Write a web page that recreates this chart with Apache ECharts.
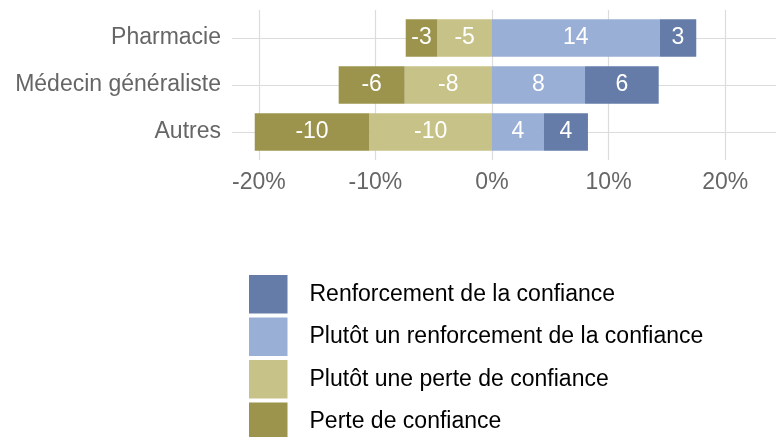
<!DOCTYPE html>
<html>
<head>
<meta charset="utf-8">
<script src="https://cdn.jsdelivr.net/npm/echarts@6/dist/echarts.min.js"></script>
<style>
  html, body { margin: 0; padding: 0; background: #fff; }
  #chart { width: 777px; height: 437px; }
</style>
</head>
<body>
<div id="chart"></div>
<script>
var categories = ['Pharmacie', 'Médecin généraliste', 'Autres'];

// shares in %, negatives drawn to the left of zero
var perte = [-2.71, -5.66, -9.83];
var plutotPerte = [-4.69, -7.49, -10.52];
var plutotRenf = [14.38, 7.98, 4.43];
var renf = [3.14, 6.32, 3.80];

// numbers printed on the bars
var perteLabels = [-3, -6, -10];
var plutotPerteLabels = [-5, -8, -10];
var plutotRenfLabels = [14, 8, 4];
var renfLabels = [3, 6, 4];

var xTicks = [-20, -10, 0, 10, 20];

var names = [
    'Renforcement de la confiance',
    'Plutôt un renforcement de la confiance',
    'Plutôt une perte de confiance',
    'Perte de confiance'
];
var colors = ['#657ca8', '#9aafd6', '#c7c287', '#9c944c'];

var fontFam = '"Liberation Sans", Arial, sans-serif';

function barSeries(name, data, labels, color) {
    return {
        name: name,
        type: 'bar',
        stack: 'total',
        xAxisIndex: 0,
        yAxisIndex: 0,
        barWidth: '80%',
        data: data,
        itemStyle: { color: color },
        label: {
            show: true,
            position: 'inside',
            color: '#fff',
            fontSize: 23,
            fontFamily: fontFam,
            formatter: function (p) { return labels[p.dataIndex]; }
        },
        emphasis: { disabled: true }
    };
}

var chart = echarts.init(document.getElementById('chart'), null, { renderer: 'canvas' });

var option = {
    animation: false,
    legend: {
        data: names,
        orient: 'vertical',
        left: 249,
        top: 275,
        height: 200,
        padding: 0,
        itemWidth: 38.5,
        itemHeight: 38.5,
        itemGap: 4,
        icon: 'rect',
        selectedMode: false,
        textStyle: {
            color: '#000',
            fontSize: 23,
            fontFamily: fontFam,
            padding: [0, 0, 0, 17]
        }
    },
    grid: [
        { left: 232, width: 544, top: 14.5, height: 141 },
        { left: 232, width: 544, top: 10, height: 150 }
    ],
    xAxis: [
        {
            type: 'value', gridIndex: 0, min: -22.3, max: 24.36,
            show: false
        },
        {
            type: 'value', gridIndex: 1, min: -22.3, max: 24.36,
            axisLine: { show: false },
            axisTick: { show: false, customValues: xTicks },
            splitLine: { show: true, lineStyle: { color: '#dcdcdc', width: 1.2 } },
            axisLabel: {
                customValues: xTicks,
                margin: 11,
                color: '#666',
                fontSize: 23,
                fontFamily: fontFam,
                formatter: function (v) { return v + '%'; }
            }
        }
    ],
    yAxis: [
        {
            type: 'category', gridIndex: 0, data: categories, inverse: true,
            axisLine: { show: false },
            axisTick: { show: false },
            splitLine: { show: false },
            axisLabel: {
                margin: 11,
                color: '#666',
                fontSize: 23,
                fontFamily: fontFam
            }
        },
        {
            type: 'value', gridIndex: 1, min: 0.4, max: 3.6, inverse: true,
            axisLine: { show: false },
            axisTick: { show: false, customValues: [1, 2, 3] },
            axisLabel: { show: false, customValues: [1, 2, 3] },
            splitLine: { show: true, lineStyle: { color: '#dcdcdc', width: 1.2 } }
        }
    ],
    series: [
        barSeries(names[2], plutotPerte, plutotPerteLabels, colors[2]),
        barSeries(names[3], perte, perteLabels, colors[3]),
        barSeries(names[1], plutotRenf, plutotRenfLabels, colors[1]),
        barSeries(names[0], renf, renfLabels, colors[0])
    ]
};

chart.setOption(option);
</script>
</body>
</html>
